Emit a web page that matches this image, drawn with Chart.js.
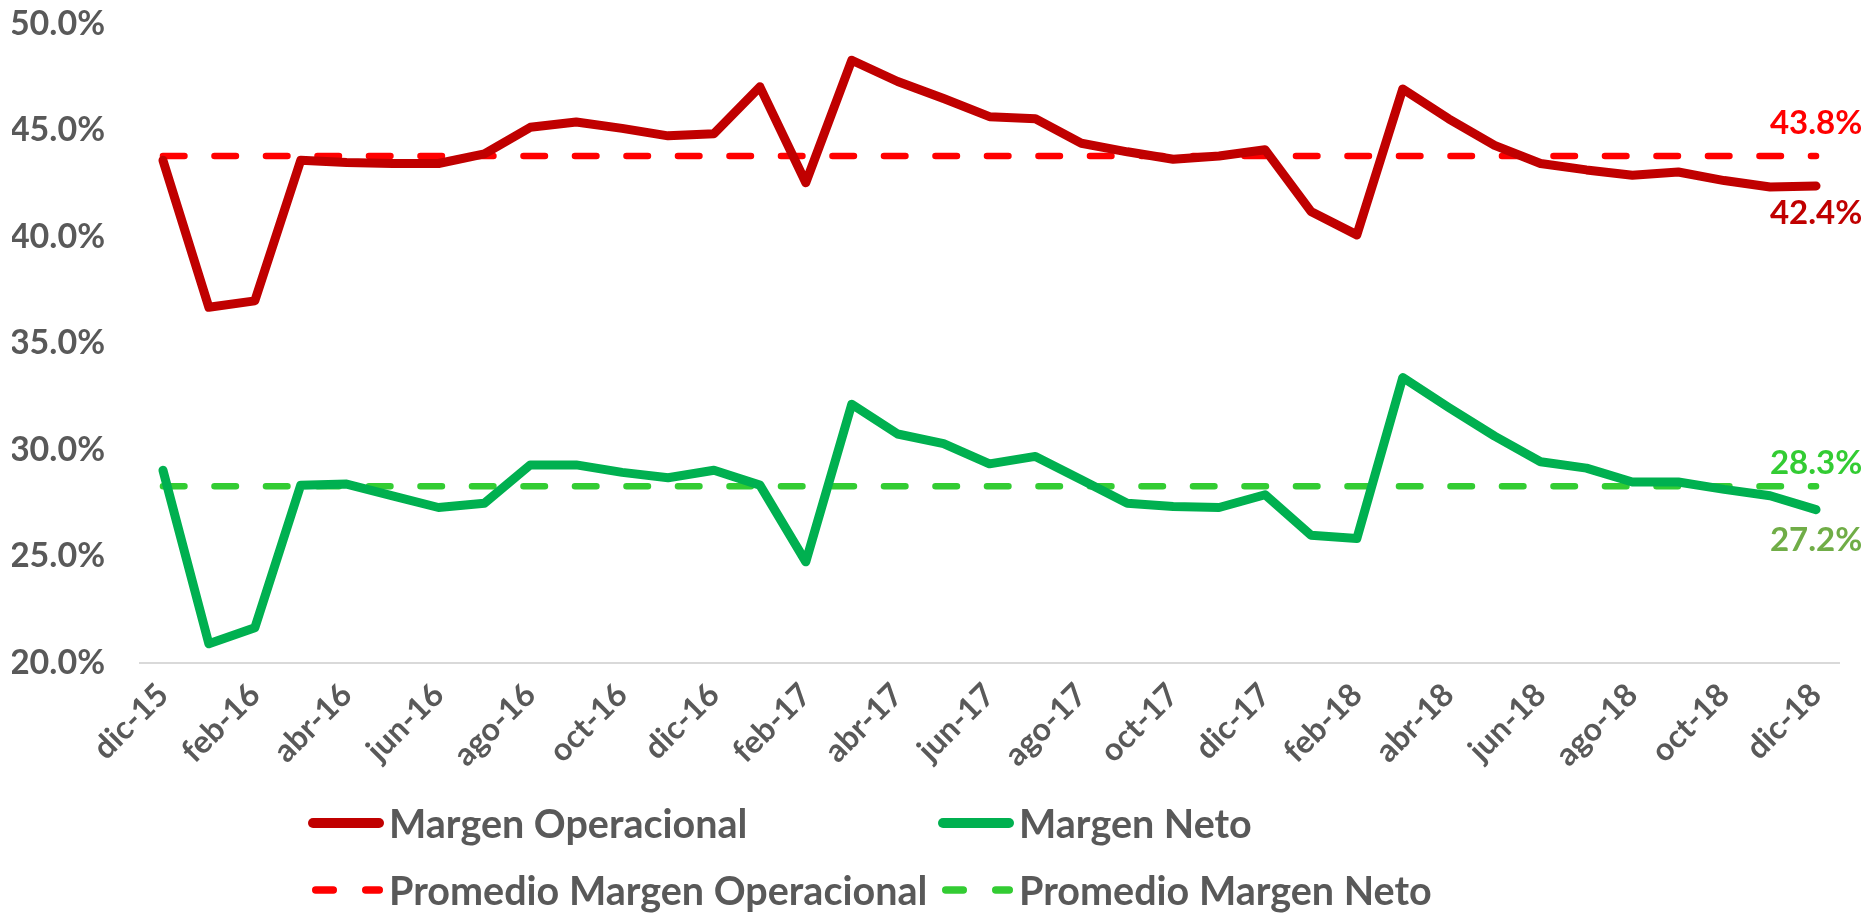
<!DOCTYPE html>
<html>
<head>
<meta charset="utf-8">
<script src="https://cdn.jsdelivr.net/npm/chart.js@4.4.1/dist/chart.umd.min.js"></script>
<style>
  html, body { margin: 0; padding: 0; background: #fff; }
  #wrap { position: relative; width: 1868px; height: 914px; }
  #grafica { position: absolute; left: 0; top: 0; }
  .leyenda { position: absolute; left: 308px; top: 800px; display: grid;
    grid-template-columns: 630px 500px; row-gap: 22px;
    font-family: Lato, sans-serif; font-weight: bold; font-size: 39.5px; color: #595959; }
  .item { display: flex; align-items: center; height: 45px; white-space: nowrap; }
  .item svg { margin-right: 5px; flex: none; }
</style>
</head>
<body>
<div id="wrap">
  <canvas id="grafica" width="1868" height="914"></canvas>
  <div class="leyenda" id="leyenda"></div>
</div>
<script>
// meses (dic-15 .. dic-18)
const fechas = ["dic-15","ene-16","feb-16","mar-16","abr-16","may-16","jun-16","jul-16","ago-16","sep-16","oct-16","nov-16",
  "dic-16","ene-17","feb-17","mar-17","abr-17","may-17","jun-17","jul-17","ago-17","sep-17","oct-17","nov-17",
  "dic-17","ene-18","feb-18","mar-18","abr-18","may-18","jun-18","jul-18","ago-18","sep-18","oct-18","nov-18","dic-18"];

// valores en %
const margenOperacional = [43.6, 36.7, 37.0, 43.6, 43.5, 43.45, 43.45, 43.9, 45.15, 45.4, 45.1, 44.75,
  44.85, 47.05, 42.55, 48.3, 47.3, 46.5, 45.65, 45.55, 44.4, 44.0, 43.65, 43.8,
  44.1, 41.2, 40.1, 46.95, 45.55, 44.3, 43.45, 43.15, 42.9, 43.05, 42.65, 42.35, 42.4];
const margenNeto = [29.05, 20.9, 21.65, 28.35, 28.4, 27.85, 27.3, 27.5, 29.3, 29.3, 28.95, 28.7,
  29.05, 28.35, 24.75, 32.15, 30.75, 30.3, 29.35, 29.7, 28.6, 27.5, 27.35, 27.3,
  27.9, 26.0, 25.85, 33.4, 32.0, 30.65, 29.45, 29.15, 28.5, 28.5, 28.15, 27.85, 27.2];
const promedioOperacional = 43.8;
const promedioNeto = 28.3;

const ejeY = [20, 50, 5]; // min, max, paso

const GRIS = '#595959';
const FUENTE = 'Lato, sans-serif';

const series = [
  { label: 'Margen Operacional', data: margenOperacional, color: '#C00000', dash: false, etiqueta: '#C00000', dy: 27 },
  { label: 'Margen Neto', data: margenNeto, color: '#00B050', dash: false, etiqueta: '#70AD47', dy: 31 },
  { label: 'Promedio Margen Operacional', data: fechas.map(() => promedioOperacional), color: '#FF0000', dash: true, etiqueta: '#FF0000', dy: -33 },
  { label: 'Promedio Margen Neto', data: fechas.map(() => promedioNeto), color: '#33CC33', dash: true, etiqueta: '#33CC33', dy: -23 }
];

// etiqueta con el ultimo valor de cada serie
const etiquetaFinal = {
  id: 'etiquetaFinal',
  afterDatasetsDraw(chart) {
    const ctx = chart.ctx;
    ctx.save();
    ctx.font = 'bold 33px ' + FUENTE;
    ctx.textAlign = 'center';
    ctx.textBaseline = 'middle';
    chart.data.datasets.forEach((ds, i) => {
      const meta = chart.getDatasetMeta(i);
      const p = meta.data[meta.data.length - 1];
      const v = ds.data[ds.data.length - 1];
      ctx.fillStyle = series[i].etiqueta;
      ctx.fillText(v.toFixed(1) + '%', p.x, p.y + series[i].dy);
    });
    ctx.restore();
  }
};

const ctx = document.getElementById('grafica').getContext('2d');
new Chart(ctx, {
  type: 'line',
  data: {
    labels: fechas,
    datasets: series.map(s => ({
      label: s.label,
      data: s.data,
      borderColor: s.color,
      backgroundColor: s.color,
      borderWidth: s.dash ? 6.5 : 9,
      borderDash: s.dash ? [21.5, 30] : [],
      borderCapStyle: 'round',
      borderJoinStyle: 'round',
      pointRadius: 0,
      tension: 0,
      fill: false
    }))
  },
  options: {
    responsive: false,
    animation: false,
    layout: { padding: { top: 24, left: 12, right: 29, bottom: 0 } },
    plugins: { legend: { display: false }, tooltip: { enabled: false } },
    scales: {
      x: {
        offset: true,
        grid: { display: false, drawTicks: false },
        border: { display: true, color: '#D9D9D9', width: 2 },
        afterFit(scale) { scale.height = 914 - 663; },
        ticks: {
          autoSkip: false,
          maxRotation: 45, minRotation: 45,
          padding: 13,
          color: GRIS,
          font: { family: FUENTE, weight: 'bold', size: 32 },
          callback(v, i) { return i % 2 === 0 ? fechas[i] : ''; }
        }
      },
      y: {
        min: ejeY[0], max: ejeY[1],
        grid: { display: false, drawTicks: false },
        border: { display: false },
        afterFit(scale) { scale.width = 128; scale.paddingTop = 0; scale.paddingBottom = 0; },
        ticks: {
          stepSize: ejeY[2],
          padding: 35,
          color: GRIS,
          font: { family: FUENTE, weight: 'bold', size: 34 },
          callback: v => v.toFixed(1) + '%'
        }
      }
    }
  },
  plugins: [etiquetaFinal]
});

// leyenda en dos columnas como la original
function muestra(s) {
  if (s.dash) {
    return `<svg width="76" height="14"><line x1="7.75" y1="7" x2="71.25" y2="7" stroke="${s.color}" stroke-width="7.5" stroke-linecap="round" stroke-dasharray="17.5 32.5"/></svg>`;
  }
  return `<svg width="76" height="14"><line x1="5" y1="7" x2="71" y2="7" stroke="${s.color}" stroke-width="10" stroke-linecap="round"/></svg>`;
}
let html = '';
series.forEach(s => {
  html += `<div class="item">${muestra(s)}<span>${s.label}</span></div>`;
});
document.getElementById('leyenda').innerHTML = html;
</script>
</body>
</html>
